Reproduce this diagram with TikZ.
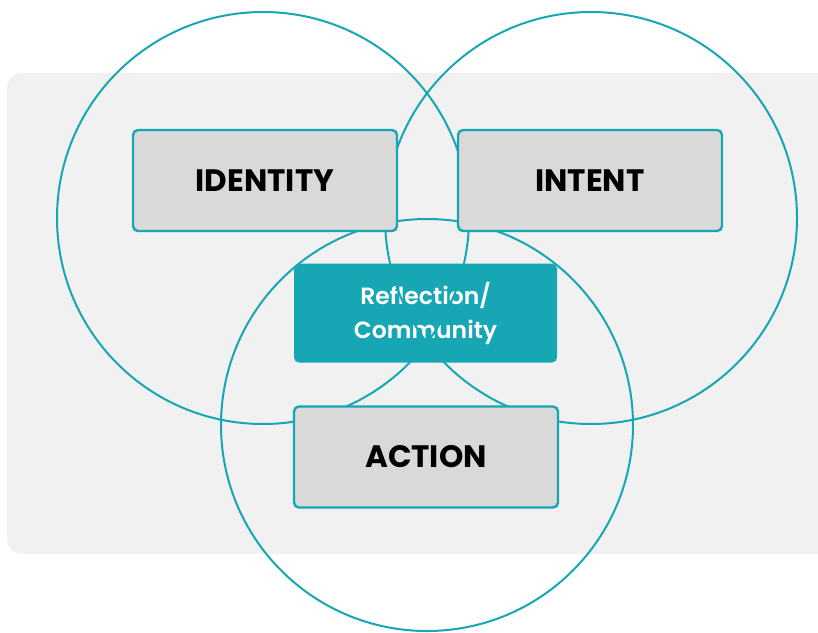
\documentclass[tikz,border=0pt]{standalone}
\usepackage{fontspec}
\setmainfont{Poppins}
\newfontfamily\medfont{Poppins SemiBold}
\usetikzlibrary{positioning}
\definecolor{teal1}{HTML}{17A6B4}
\definecolor{boxgray}{HTML}{D9D9D9}
\definecolor{bggray}{HTML}{F1F1F1}

\begin{document}
\begin{tikzpicture}[x=1pt,y=-1pt,
 ring/.style={draw=teal1,line width=2pt},
 lbl/.style={draw=teal1,line width=2.4pt,fill=boxgray,rounded corners=5pt,minimum width=264pt,minimum height=101pt,font=\fontsize{31}{36}\selectfont\bfseries},
 hub/.style={fill=teal1,rounded corners=5pt,minimum width=263pt,minimum height=99pt,text=white,align=center,font=\fontsize{23.5}{34}\selectfont\medfont}]
\useasboundingbox (0,0) rectangle (818,632);
% backdrop
\fill[bggray,rounded corners=15pt] (7,73) rectangle (840,554);
\node[hub] (refl) at (425.5,313) {Reflection/\\Community};
% the three circles
\draw[ring] (263,218) circle (206);
\draw[ring] (591,218) circle (206);
\draw[ring] (427,425) circle (206);
\node[lbl] (ident) at (265,180.5) {IDENTITY};
\node[lbl] (intent) at (590,180.5) {INTENT};
\node[lbl] (action) at (426,457) {ACTION};
\end{tikzpicture}
\end{document}
